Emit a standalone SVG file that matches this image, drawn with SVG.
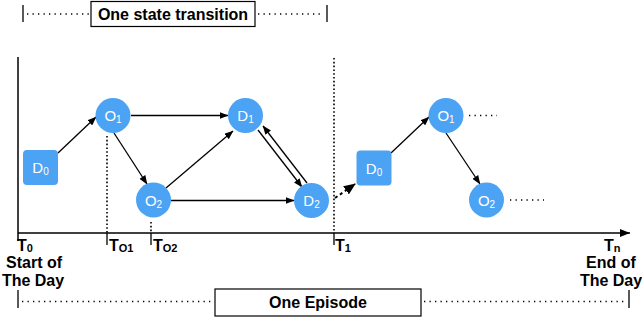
<svg xmlns="http://www.w3.org/2000/svg" width="642" height="322" viewBox="0 0 642 322">
<style>
.ln{stroke:#000;stroke-width:1.3;fill:none}
.ax{stroke:#000;stroke-width:1.5;fill:none}
.dot{stroke:#000;stroke-width:1.3;stroke-dasharray:1.3 4.2;fill:none}
.vdot{stroke:#000;stroke-width:1.6;stroke-dasharray:1.6 2.2;fill:none}
.node{fill:#4ca3f3}
.nt{font-family:"Liberation Sans",Arial,sans-serif;font-size:15px;fill:#fff;text-anchor:middle}
.lb{font-family:"Liberation Sans",Arial,sans-serif;font-weight:bold;fill:#000}
.big{font-size:16px;text-anchor:middle}
.t{font-size:16px}
</style>
<defs>
<marker id="ah" markerWidth="9" markerHeight="7" refX="8.5" refY="3.5" orient="auto" markerUnits="userSpaceOnUse"><path d="M0,0 L9,3.5 L0,7 z" fill="#000"/></marker>
<marker id="ahb" markerWidth="12" markerHeight="10" refX="11" refY="5" orient="auto" markerUnits="userSpaceOnUse"><path d="M0,0 L12,5 L0,10 z" fill="#000"/></marker>
<marker id="axh" markerWidth="10" markerHeight="8" refX="10" refY="4" orient="auto" markerUnits="userSpaceOnUse"><path d="M0,0 L10,4 L0,8 z" fill="#000"/></marker>
</defs>

<g id="top-bracket">
<line class="ln" x1="23" y1="5" x2="23" y2="22"/>
<line class="ln" x1="327" y1="5" x2="327" y2="22"/>
<line class="dot" x1="27" y1="14" x2="90" y2="14"/>
<line class="dot" x1="258" y1="14" x2="324" y2="14"/>
<rect x="91" y="1.5" width="164" height="25" fill="#fff" stroke="#000" stroke-width="1.2"/>
<text class="lb big" x="173" y="20">One state transition</text>
</g>

<g id="axes">
<line class="ax" x1="18" y1="57" x2="18" y2="241"/>
<line class="ax" x1="18" y1="233" x2="630" y2="233" marker-end="url(#axh)"/>
<line class="ln" x1="107" y1="233" x2="107" y2="245"/>
<line class="ln" x1="151" y1="233" x2="151" y2="245"/>
<line class="ln" x1="334" y1="233" x2="334" y2="245"/>
<line class="vdot" x1="107" y1="136" x2="107" y2="233"/>
<line class="vdot" x1="151" y1="222" x2="151" y2="233"/>
<line class="vdot" x1="334" y1="58" x2="334" y2="233"/>
</g>

<g id="time-labels">
<text class="lb t" x="17" y="251">T<tspan font-size="11" dy="1">0</tspan></text>
<text class="lb t" x="109" y="251">T<tspan font-size="11" dy="1">O1</tspan></text>
<text class="lb t" x="153" y="251">T<tspan font-size="11" dy="1">O2</tspan></text>
<text class="lb t" x="335" y="251">T<tspan font-size="11" dy="1">1</tspan></text>
<text class="lb t" x="604" y="251">T<tspan font-size="11" dy="1">n</tspan></text>
<text class="lb big" x="34" y="268">Start of</text>
<text class="lb big" x="33" y="286">The Day</text>
<text class="lb big" x="611" y="268">End of</text>
<text class="lb big" x="611" y="286">The Day</text>
</g>

<g id="bottom-bracket">
<line class="ln" x1="18" y1="290" x2="18" y2="308"/>
<line class="ln" x1="629" y1="290" x2="629" y2="308"/>
<line class="dot" x1="22" y1="301.5" x2="213" y2="301.5"/>
<line class="dot" x1="424" y1="301.5" x2="626" y2="301.5"/>
<rect x="215" y="289" width="206" height="27" fill="#fff" stroke="#000" stroke-width="1.2"/>
<text class="lb big" x="318" y="308">One Episode</text>
</g>

<g id="connectors">
<line class="ln" x1="58" y1="153" x2="96" y2="117" marker-end="url(#ah)"/>
<line class="ln" x1="114" y1="133" x2="147" y2="184" marker-end="url(#ah)"/>
<line class="ln" x1="131" y1="115.5" x2="228" y2="115.5" marker-end="url(#ah)"/>
<line class="ln" x1="166" y1="188" x2="233" y2="131" marker-end="url(#ah)"/>
<line class="ln" x1="171" y1="200.5" x2="294" y2="200.5" marker-end="url(#ah)"/>
<line class="ln" x1="258" y1="130" x2="302" y2="187" marker-end="url(#ah)"/>
<line class="ln" x1="307" y1="183" x2="263" y2="126" marker-end="url(#ah)"/>
<line x1="335" y1="198" x2="355" y2="184" stroke="#000" stroke-width="2" stroke-dasharray="3 3" marker-end="url(#ahb)"/>
<line class="ln" x1="391" y1="153" x2="429" y2="117" marker-end="url(#ah)"/>
<line class="ln" x1="446" y1="133" x2="480" y2="184" marker-end="url(#ah)"/>
<line class="dot" x1="469" y1="115.5" x2="497" y2="115.5"/>
<line class="dot" x1="510" y1="200" x2="544" y2="200"/>
</g>

<g id="D0">
<rect class="node" x="23" y="150" width="35" height="35" rx="4"/>
<text class="nt" x="40.5" y="173">D<tspan font-size="10" dy="2">0</tspan></text>
</g>
<g id="O1">
<circle class="node" cx="113" cy="115.5" r="17.5"/>
<text class="nt" x="113" y="121">O<tspan font-size="10" dy="2">1</tspan></text>
</g>
<g id="O2">
<circle class="node" cx="153.5" cy="200" r="17.5"/>
<text class="nt" x="153.5" y="205.5">O<tspan font-size="10" dy="2">2</tspan></text>
</g>
<g id="D1">
<circle class="node" cx="245.5" cy="115.5" r="17.5"/>
<text class="nt" x="245.5" y="121">D<tspan font-size="10" dy="2">1</tspan></text>
</g>
<g id="D2">
<circle class="node" cx="311.5" cy="200.5" r="17.5"/>
<text class="nt" x="311.5" y="206">D<tspan font-size="10" dy="2">2</tspan></text>
</g>
<g id="D0b">
<rect class="node" x="356.5" y="150.5" width="35" height="35" rx="4"/>
<text class="nt" x="374" y="173.5">D<tspan font-size="10" dy="2">0</tspan></text>
</g>
<g id="O1b">
<circle class="node" cx="446" cy="115.5" r="17.5"/>
<text class="nt" x="446" y="121">O<tspan font-size="10" dy="2">1</tspan></text>
</g>
<g id="O2b">
<circle class="node" cx="486.5" cy="200" r="17.5"/>
<text class="nt" x="486.5" y="205.5">O<tspan font-size="10" dy="2">2</tspan></text>
</g>
</svg>
